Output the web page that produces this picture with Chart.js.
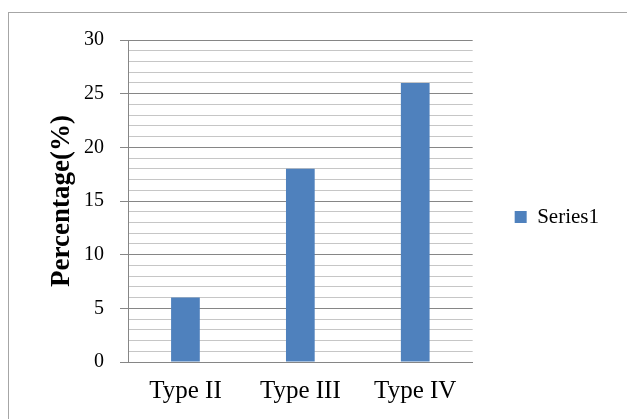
<!DOCTYPE html>
<html>
<head>
<meta charset="utf-8">
<script src="https://cdn.jsdelivr.net/npm/chart.js@4/dist/chart.umd.min.js"></script>
<style>
  html, body { margin: 0; padding: 0; background: #ffffff; }
  #wrap { width: 627px; height: 419px; }
</style>
</head>
<body>
<div id="wrap"><canvas id="chart" width="627" height="419"></canvas></div>
<script>
// Share of each type, in percent
const categories = ['Type II', 'Type III', 'Type IV'];
const series1 = [6, 18, 26];
const seriesName = 'Series1';
const yAxisTitle = 'Percentage(%)';

const SERIF = "'Liberation Serif', 'Times New Roman', serif";
const MAJOR = '#868686';
const MINOR = '#c6c6c6';

// White page with a thin grey frame around the chart object
const framePlugin = {
  id: 'frame',
  beforeDraw(chart) {
    const ctx = chart.ctx;
    ctx.save();
    ctx.fillStyle = '#ffffff';
    ctx.fillRect(0, 0, chart.width, chart.height);
    ctx.strokeStyle = '#a6a6a6';
    ctx.lineWidth = 1;
    ctx.strokeRect(8.5, 12.5, chart.width + 20, chart.height + 20);
    ctx.restore();
  }
};

new Chart(document.getElementById('chart'), {
  type: 'bar',
  data: {
    labels: categories,
    datasets: [{
      label: seriesName,
      data: series1,
      backgroundColor: '#4f81bd',
      borderWidth: 0,
      barPercentage: 0.25,
      categoryPercentage: 1.0
    }]
  },
  options: {
    responsive: false,
    animation: false,
    devicePixelRatio: 1,
    layout: { padding: { left: 30, top: 40, right: 18, bottom: 10 } },
    plugins: {
      tooltip: { enabled: false },
      legend: {
        position: 'right',
        align: 'center',
        fullSize: false,
        // empty heading block only nudges the entry a little below the plot's middle
        title: {
          display: true,
          text: '',
          font: { size: 10, lineHeight: 1.2 },
          padding: { top: 0, bottom: 20 }
        },
        labels: {
          boxWidth: 12,
          boxHeight: 12,
          padding: 42,
          color: '#000000',
          font: { family: SERIF, size: 21 }
        }
      }
    },
    scales: {
      x: {
        grid: { display: false, drawTicks: false },
        border: { display: true, color: MAJOR, width: 1 },
        ticks: {
          color: '#000000',
          padding: 14,
          font: { family: SERIF, size: 25 }
        },
        afterFit(scale) { scale.height = 47; }
      },
      y: {
        min: 0,
        max: 30,
        grid: {
          color: (c) => (c.tick && c.tick.value % 5 === 0) ? MAJOR : MINOR,
          tickColor: (c) => (c.tick && c.tick.value % 5 === 0) ? MAJOR : 'rgba(0,0,0,0)',
          tickLength: 8,
          lineWidth: 1
        },
        border: { display: true, color: MAJOR, width: 1 },
        ticks: {
          stepSize: 1,
          autoSkip: false,
          padding: 16,
          color: '#000000',
          font: { family: SERIF, size: 20 },
          callback: (v) => (v % 5 === 0 ? String(v) : '')
        },
        title: {
          display: true,
          text: yAxisTitle,
          color: '#000000',
          padding: { top: 16, bottom: 0 },
          font: { family: SERIF, size: 27, weight: 'bold' }
        },
        afterFit(scale) { scale.width = 98; }
      }
    }
  },
  plugins: [framePlugin]
});
</script>
</body>
</html>
